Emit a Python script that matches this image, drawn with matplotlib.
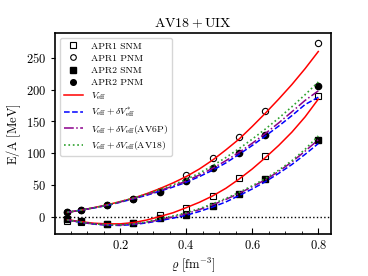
import numpy as np
import matplotlib.pyplot as plt
from matplotlib.ticker import MultipleLocator

plt.rcParams['font.family'] = 'serif'
plt.rcParams['font.serif'] = ['cmr10']
plt.rcParams['mathtext.fontset'] = 'cm'
plt.rcParams['axes.formatter.use_mathtext'] = True

# APR points
rho_apr = [0.04, 0.08, 0.16, 0.24, 0.32, 0.40, 0.48, 0.56, 0.64, 0.80]
apr1_snm = [-6.5, -8.9, -12.5, -10.3, 2.0, 13.5, 32.5, 60.5, 96.0, 190.0]
apr1_pnm = [6.5, 9.7, 18.0, 27.0, 40.5, 65.0, 91.5, 125.0, 166.5, 273.0]
apr2_snm = [-4.0, -7.5, -11.5, -9.5, -3.0, 2.5, 16.5, 36.0, 58.5, 121.0]
apr2_pnm = [6.8, 10.0, 17.5, 27.5, 39.0, 56.0, 76.0, 100.0, 128.0, 206.0]

# model curves
rho = [0.04, 0.08, 0.12, 0.16, 0.20, 0.24, 0.28, 0.32, 0.36, 0.40,
       0.44, 0.48, 0.52, 0.56, 0.60, 0.64, 0.68, 0.72, 0.76, 0.80]
veff_snm = [-5.0, -8.0, -10.5, -11.5, -11.5, -9.5, -5.5, 0.0, 6.0, 14.0,
            22.5, 32.5, 44.5, 59.0, 75.0, 93.0, 112.0, 133.0, 157.0, 185.0]
veff_pnm = [6.5, 10.0, 14.0, 18.5, 23.5, 29.0, 36.0, 44.0, 53.0, 63.0,
            75.0, 89.0, 105.0, 122.0, 142.0, 163.0, 185.0, 208.0, 233.0, 260.0]
dvs_snm = [-5.5, -9.0, -12.0, -13.5, -14.0, -12.5, -10.0, -6.5, -2.5, 2.0,
           8.0, 15.0, 23.0, 33.0, 43.5, 55.0, 68.0, 82.0, 98.0, 115.0]
dvs_pnm = [6.8, 10.0, 13.5, 17.5, 22.5, 28.0, 33.5, 40.0, 46.5, 54.0,
           63.0, 73.0, 84.5, 98.0, 112.0, 127.0, 142.5, 159.0, 176.5, 188.0]
av6p_snm = [-5.3, -8.8, -11.7, -13.0, -13.3, -11.8, -9.0, -5.0, -0.5, 4.5,
            11.0, 18.5, 27.0, 36.5, 47.0, 58.0, 71.0, 86.0, 103.0, 121.0]
av6p_pnm = [6.8, 10.0, 13.7, 17.8, 23.0, 28.5, 34.5, 41.0, 48.0, 56.0,
            65.5, 76.0, 88.0, 101.0, 115.5, 131.0, 147.5, 165.0, 183.0, 198.0]
av18_snm = [-5.3, -8.7, -11.5, -12.8, -13.0, -11.5, -8.5, -3.5, 1.0, 6.0,
            12.5, 20.0, 28.5, 38.0, 48.5, 60.0, 73.0, 88.0, 106.0, 127.0]
av18_pnm = [6.8, 10.0, 13.8, 18.0, 23.5, 29.0, 35.5, 42.5, 50.0, 58.5,
            68.5, 80.0, 93.0, 107.0, 122.0, 138.0, 155.0, 173.0, 192.0, 212.0]

fig = plt.figure(figsize=(3.68, 2.76), dpi=100)
ax = fig.add_axes([0.149, 0.151, 0.750, 0.729])

ax.axhline(0, color='black', linestyle=':', linewidth=1.0)

ax.plot(rho_apr, apr1_snm, 's', mfc='none', mec='black', ms=4.5, mew=0.8, label='APR1 SNM')
ax.plot(rho_apr, apr1_pnm, 'o', mfc='none', mec='black', ms=4.5, mew=0.8, label='APR1 PNM')
ax.plot(rho_apr, apr2_snm, 's', color='black', ms=4.5, label='APR2 SNM')
ax.plot(rho_apr, apr2_pnm, 'o', color='black', ms=4.5, label='APR2 PNM')

ax.plot(rho, veff_snm, color='red', lw=1.1, label=r'$V_{\rm eff}$')
ax.plot(rho, veff_pnm, color='red', lw=1.1)
ax.plot(rho, dvs_snm, color='blue', ls='--', lw=1.1, label=r'$V_{\rm eff}+\delta V^{*}_{\rm eff}$')
ax.plot(rho, dvs_pnm, color='blue', ls='--', lw=1.1)
ax.plot(rho, av6p_snm, color='darkmagenta', ls='-.', lw=1.1,
        label=r'$V_{\rm eff}+\delta V_{\rm eff}({\rm AV6P})$')
ax.plot(rho, av6p_pnm, color='darkmagenta', ls='-.', lw=1.1)
ax.plot(rho, av18_snm, color='tab:green', ls=':', lw=1.2,
        label=r'$V_{\rm eff}+\delta V_{\rm eff}({\rm AV18})$')
ax.plot(rho, av18_pnm, color='tab:green', ls=':', lw=1.2)

ax.set_xlim(0.002, 0.838)
ax.set_ylim(-28, 289)
ax.xaxis.set_minor_locator(MultipleLocator(0.05))
ax.set_xticks([0.2, 0.4, 0.6, 0.8])
ax.set_yticks([0, 50, 100, 150, 200, 250])
ax.tick_params(axis='x', which='both', direction='in', labelsize=9)
ax.tick_params(axis='x', which='major', length=4)
ax.tick_params(axis='x', which='minor', length=2)
ax.tick_params(axis='y', direction='out', labelsize=9, length=3)
for s in ax.spines.values():
    s.set_linewidth(1.2)

ax.set_xlabel(r'$\varrho\ [{\rm fm}^{-3}]$', fontsize=9, labelpad=2)
ax.set_ylabel(r'${\rm E/A\ [MeV]}$', fontsize=9, labelpad=2)
ax.set_title(r'${\rm AV18+UIX}$', fontsize=10, pad=4)

ax.legend(loc='upper left', fontsize=7, frameon=True, handlelength=2.0,
          labelspacing=0.35, borderpad=0.4, markerscale=0.9)

fig.savefig('out.png', dpi=100)
